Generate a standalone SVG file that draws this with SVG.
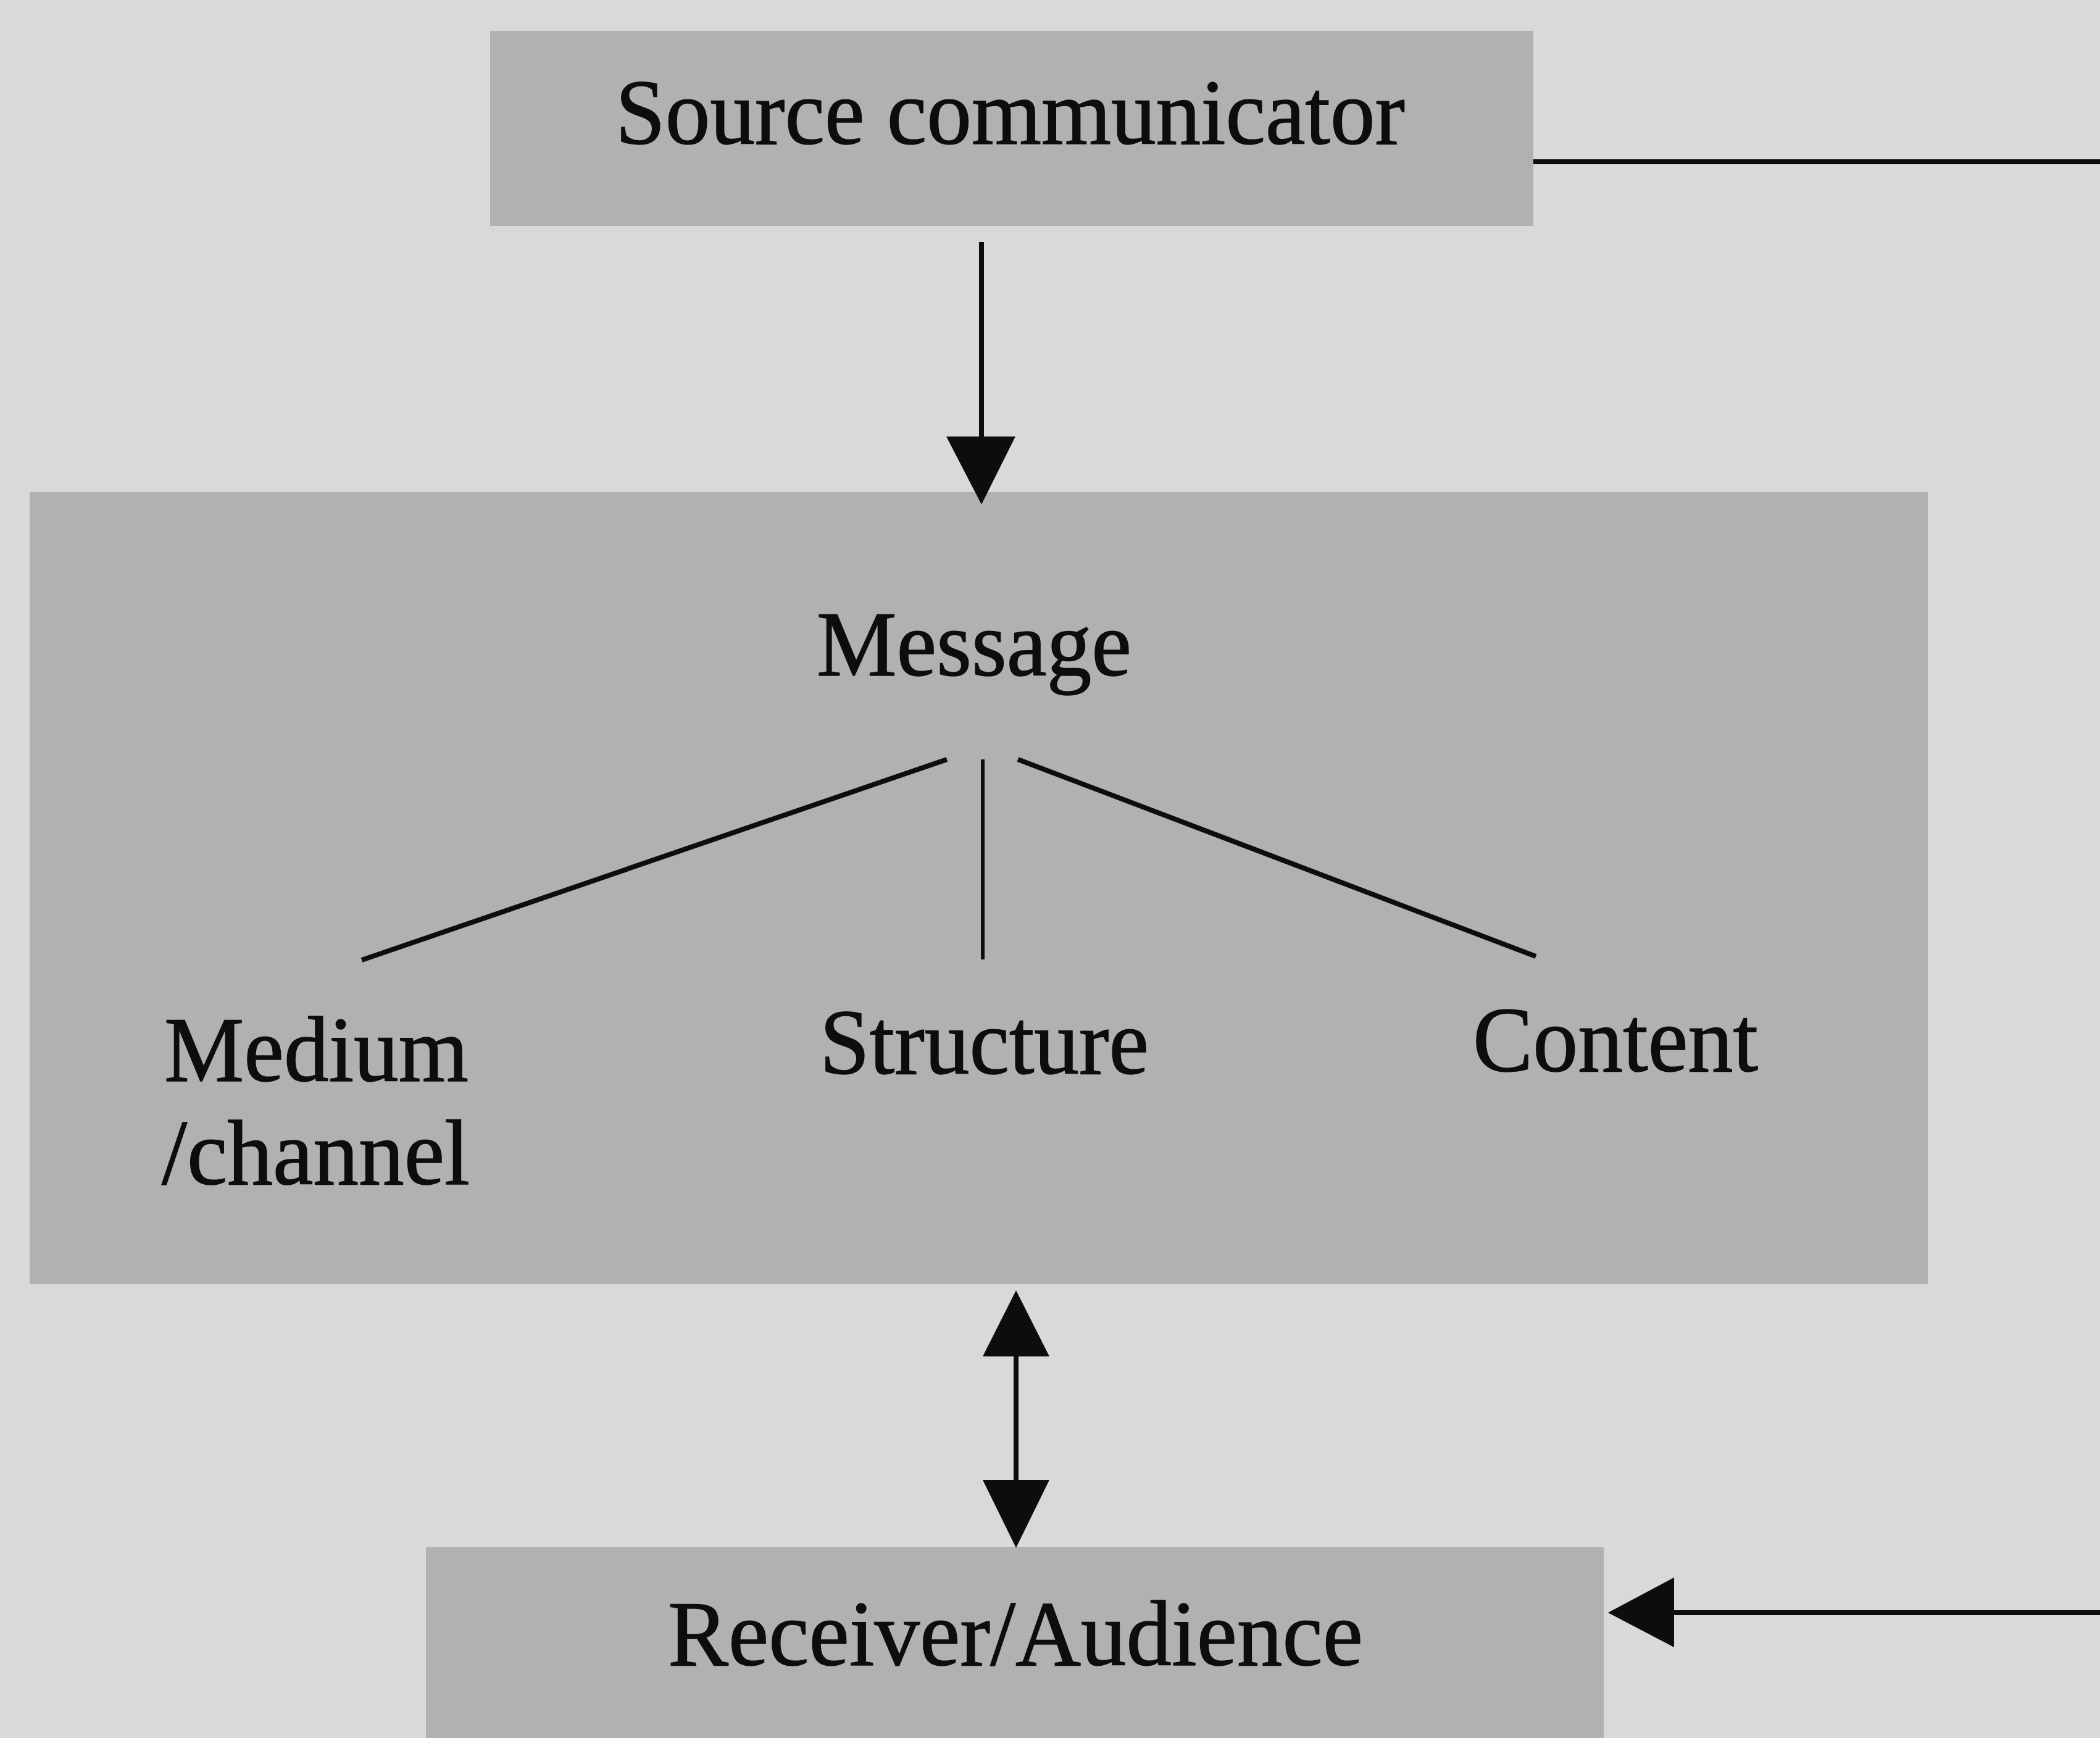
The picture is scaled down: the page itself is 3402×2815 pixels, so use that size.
<svg xmlns="http://www.w3.org/2000/svg" width="3402" height="2815" viewBox="0 0 3402 2815">
<style>
.box{fill:#b1b1b1}
.t{font-family:"Liberation Serif","Times New Roman",serif;font-size:150px;fill:#0d0d0d;stroke:#0d0d0d;stroke-width:1.5}
.ln{stroke:#0d0d0d;stroke-width:8;fill:none}
.thin{stroke:#0d0d0d;stroke-width:6;fill:none}
.ah{fill:#0d0d0d}
</style>
<rect x="0" y="0" width="3402" height="2815" fill="#d9d9d9"/>
<g id="source">
<rect class="box" x="794" y="50" width="1690" height="316"/>
<text class="t" x="997" y="233" textLength="1279" lengthAdjust="spacingAndGlyphs">Source communicator</text>
</g>
<g id="message">
<rect class="box" x="48" y="797" width="3075" height="1283"/>
<text class="t" x="1323" y="1094" textLength="510" lengthAdjust="spacingAndGlyphs">Message</text>
</g>
<g id="medium">
<text class="t" x="266" y="1751" textLength="493" lengthAdjust="spacingAndGlyphs">Medium</text>
<text class="t" x="262" y="1918" textLength="499" lengthAdjust="spacingAndGlyphs">/channel</text>
</g>
<g id="structure">
<text class="t" x="1328" y="1739" textLength="533" lengthAdjust="spacingAndGlyphs">Structure</text>
</g>
<g id="content">
<text class="t" x="2386" y="1735" textLength="462" lengthAdjust="spacingAndGlyphs">Content</text>
</g>
<g id="receiver">
<rect class="box" x="690" y="2506" width="1908" height="309"/>
<text class="t" x="1082" y="2697" textLength="1126" lengthAdjust="spacingAndGlyphs">Receiver/Audience</text>
</g>
<g id="connectors">
<line class="ln" x1="1590" y1="392" x2="1590" y2="712"/>
<polygon class="ah" points="1533,707 1645,707 1590,817"/>
<line class="ln" x1="1534" y1="1230" x2="586" y2="1555"/>
<line class="thin" x1="1592" y1="1230" x2="1592" y2="1554"/>
<line class="ln" x1="1649" y1="1230" x2="2488" y2="1549"/>
<line class="ln" x1="1646" y1="2190" x2="1646" y2="2402"/>
<polygon class="ah" points="1646,2090 1700,2197 1592,2197"/>
<polygon class="ah" points="1592,2397 1700,2397 1646,2507"/>
<line class="ln" x1="2484" y1="262" x2="3402" y2="262"/>
<line class="ln" x1="2706" y1="2612" x2="3402" y2="2612"/>
<polygon class="ah" points="2605,2612 2712,2555 2712,2668"/>
</g>
</svg>
